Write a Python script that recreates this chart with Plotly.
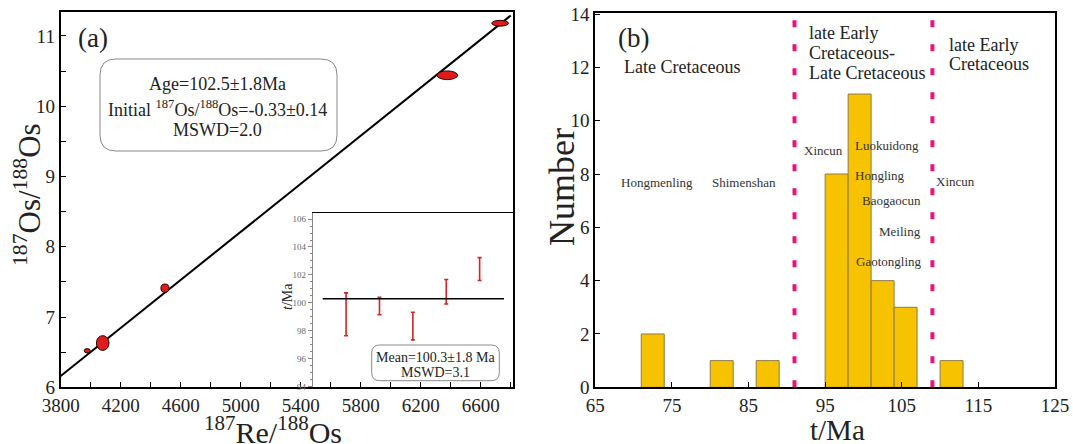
import plotly.graph_objects as go

W, H = 1073, 444
FONT = "Liberation Serif"

# ---------------- Panel (a): Re-Os isochron ----------------
iso_x = [3977, 4080, 4495, 6377, 6729]
iso_y = [6.52, 6.63, 7.41, 10.44, 11.18]
iso_ex = [20, 42, 27, 69, 56]          # ellipse half-widths (x units)
iso_ey = [0.031, 0.105, 0.059, 0.062, 0.041]  # ellipse half-heights (y units)
fit_x = [3800, 6800]
fit_y = [6.16, 11.29]

# inset: weighted mean ages
inset_idx = [1, 2, 3, 4, 5]
inset_low = [97.65, 99.16, 97.36, 99.93, 101.60]
inset_high = [100.72, 100.41, 99.33, 101.68, 103.24]
mean_age = 100.3
mean_span = [0.3, 5.73]

# ---------------- Panel (b): histogram ----------------
bin_left = [71, 80, 86, 95, 98, 101, 104, 110]
counts = [2, 1, 1, 8, 11, 4, 3, 1]
bin_width = 3
boundaries = [91, 109]

deposit_names = ["Hongmenling", "Shimenshan", "Xincun", "Luokuidong", "Hongling",
                 "Baogaocun", "Meiling", "Gaotongling", "Xincun"]
deposit_x = [73.0, 84.45, 94.76, 103.04, 102.17, 103.7, 104.78, 103.25, 112.05]
deposit_y = [7.67, 7.67, 8.87, 9.07, 7.96, 7.02, 5.84, 4.71, 7.71]


def PX(x):
    return x / W


def PY(y):
    return 1 - y / H


fig = go.Figure()

# isochron line
fig.add_trace(go.Scatter(x=fit_x, y=fit_y, mode="lines",
                         line=dict(color="black", width=2),
                         xaxis="x", yaxis="y", showlegend=False, hoverinfo="skip"))

# inset error bars
err_plus = [h - l for h, l in zip(inset_high, inset_low)]
fig.add_trace(go.Scatter(x=inset_idx, y=inset_low, mode="markers",
                         marker=dict(size=1, color="rgba(0,0,0,0)"),
                         error_y=dict(type="data", symmetric=False, array=err_plus,
                                      arrayminus=[0] * len(inset_low),
                                      color="#D42424", thickness=1.6, width=2),
                         xaxis="x3", yaxis="y3", showlegend=False))
fig.add_trace(go.Scatter(x=mean_span, y=[mean_age, mean_age], mode="lines",
                         line=dict(color="black", width=1.5),
                         xaxis="x3", yaxis="y3", showlegend=False))

# histogram
fig.add_trace(go.Bar(x=bin_left, y=counts, width=bin_width, offset=0,
                     marker=dict(color="#F7C300", line=dict(color="#8C7A4A", width=1)),
                     xaxis="x2", yaxis="y2", showlegend=False))

shapes = []
for cx, cy, ex, ey in zip(iso_x, iso_y, iso_ex, iso_ey):
    shapes.append(dict(type="circle", xref="x", yref="y",
                       x0=cx - ex, x1=cx + ex, y0=cy - ey, y1=cy + ey,
                       fillcolor="#E01B1B", line=dict(color="#2a0000", width=1)))

for b in boundaries:
    shapes.append(dict(type="line", xref="x2", yref="y2 domain", x0=b, x1=b, y0=0.0, y1=1.0,
                       line=dict(color="#E5177D", width=4, dash="7px,17px")))


def rrect(px0, py0, px1, py1, r, color="#888", width=1):
    x0, x1 = PX(px0), PX(px1)
    y0, y1 = PY(py1), PY(py0)
    rx, ry = r / W, r / H
    path = (f"M {x0+rx},{y0} L {x1-rx},{y0} Q {x1},{y0} {x1},{y0+ry} "
            f"L {x1},{y1-ry} Q {x1},{y1} {x1-rx},{y1} L {x0+rx},{y1} "
            f"Q {x0},{y1} {x0},{y1-ry} L {x0},{y0+ry} Q {x0},{y0} {x0+rx},{y0} Z")
    return dict(type="path", xref="paper", yref="paper", path=path,
                line=dict(color=color, width=width), fillcolor="white", layer="below")


shapes.append(rrect(100, 59, 337, 151, 16))
shapes.append(rrect(371.7, 345, 499.3, 380.7, 8))

ann = []


def A(x, y, text, size, xref="paper", yref="paper", angle=0, xanchor="center",
      color="#222"):
    ann.append(dict(x=x, y=y, xref=xref, yref=yref, text=text, showarrow=False,
                    textangle=angle, xanchor=xanchor, yanchor="middle",
                    font=dict(family=FONT, size=size, color=color)))


A(4015, 10.97, "(a)", 27, "x", "y")
A(4842, 10.31, "Age=102.5±1.8Ma", 18, "x", "y")
A(4842, 9.97, "Initial <sup>187</sup>Os/<sup>188</sup>Os=-0.33±0.14", 18, "x", "y")
A(4842, 9.66, "MSWD=2.0", 18, "x", "y")
A(PX(435), PY(357), "Mean=100.3±1.8 Ma", 14)
A(PX(435), PY(372), "MSWD=3.1", 14)
A(PX(287), PY(297), "<i>t</i>/Ma", 14, angle=-90)
# axis titles
A(PX(27), PY(195), "<sup>187</sup>Os/<sup>188</sup>Os", 31, angle=-90)
A(PX(273), PY(430), "<sup>187</sup>Re/<sup>188</sup>Os", 30)
A(PX(562), PY(187), "Number", 36, angle=-90)
A(PX(837), PY(430), "t/Ma", 29)

# panel b texts
A(70.05, 13.1, "(b)", 27, "x2", "y2")
A(76.28, 12.02, "Late Cretaceous", 18, "x2", "y2")
for line, yy in zip(["late Early", "Cretaceous-", "Late Cretaceous"], [13.27, 12.52, 11.77]):
    A(92.6, yy, line, 18, "x2", "y2", xanchor="left")
for line, yy in zip(["late Early", "Cretaceous"], [12.83, 12.11]):
    A(110.87, yy, line, 18, "x2", "y2", xanchor="left")
for name, xx, yy in zip(deposit_names, deposit_x, deposit_y):
    A(xx, yy, name, 13, "x2", "y2", color="#333")

axis_common = dict(showline=True, linecolor="black", linewidth=2, mirror=True,
                   showgrid=False, zeroline=False, ticks="inside", ticklen=5,
                   tickcolor="black", automargin=False, ticklabeloverflow="allow",
                   tickfont=dict(family=FONT, size=19, color="#222"))

fig.update_layout(
    template="none",
    width=W, height=H, margin=dict(l=0, r=0, t=0, b=0, pad=0),
    paper_bgcolor="white", plot_bgcolor="rgba(0,0,0,0)",
    showlegend=False, shapes=shapes, annotations=ann,
    xaxis=dict(domain=[PX(60.7), PX(513)], range=[3800, 6815], tick0=3800, dtick=400,
               minor=dict(dtick=200, ticks="inside", ticklen=5, tickcolor="black"),
               anchor="y", **axis_common),
    yaxis=dict(domain=[PY(387.3), PY(12)], range=[6, 11.34], dtick=1,
               minor=dict(dtick=0.5, ticks="inside", ticklen=5, tickcolor="black"),
               anchor="x", **axis_common),
    xaxis2=dict(domain=[PX(595.3), PX(1055)], range=[65, 125], tick0=65, dtick=10,
                anchor="y2", **axis_common),
    yaxis2=dict(domain=[PY(387.3), PY(12.7)], range=[0, 14.05], dtick=2,
                anchor="x2", **axis_common),
    xaxis3=dict(domain=[PX(312.7), PX(513)], range=[0, 6], anchor="y3",
                showline=True, linecolor="black", linewidth=1, mirror=True, automargin=False,
                showgrid=False, zeroline=False, showticklabels=False, ticks=""),
    yaxis3=dict(domain=[PY(387.3), PY(213)], range=[93.97, 106.43], dtick=2,
                anchor="x3", showline=True, linecolor="#888", linewidth=1, automargin=False,
                showgrid=False, zeroline=False, ticks="outside", ticklen=4, tickcolor="#888",
                ticklabeloverflow="allow",
                minor=dict(dtick=0.5, ticks="outside", ticklen=2, tickcolor="#888"),
                tickfont=dict(family=FONT, size=9, color="#666")),
)

fig.write_html("out.html", config={"displayModeBar": False},
               post_script="document.body.style.margin='0';document.body.style.overflow='hidden';")
